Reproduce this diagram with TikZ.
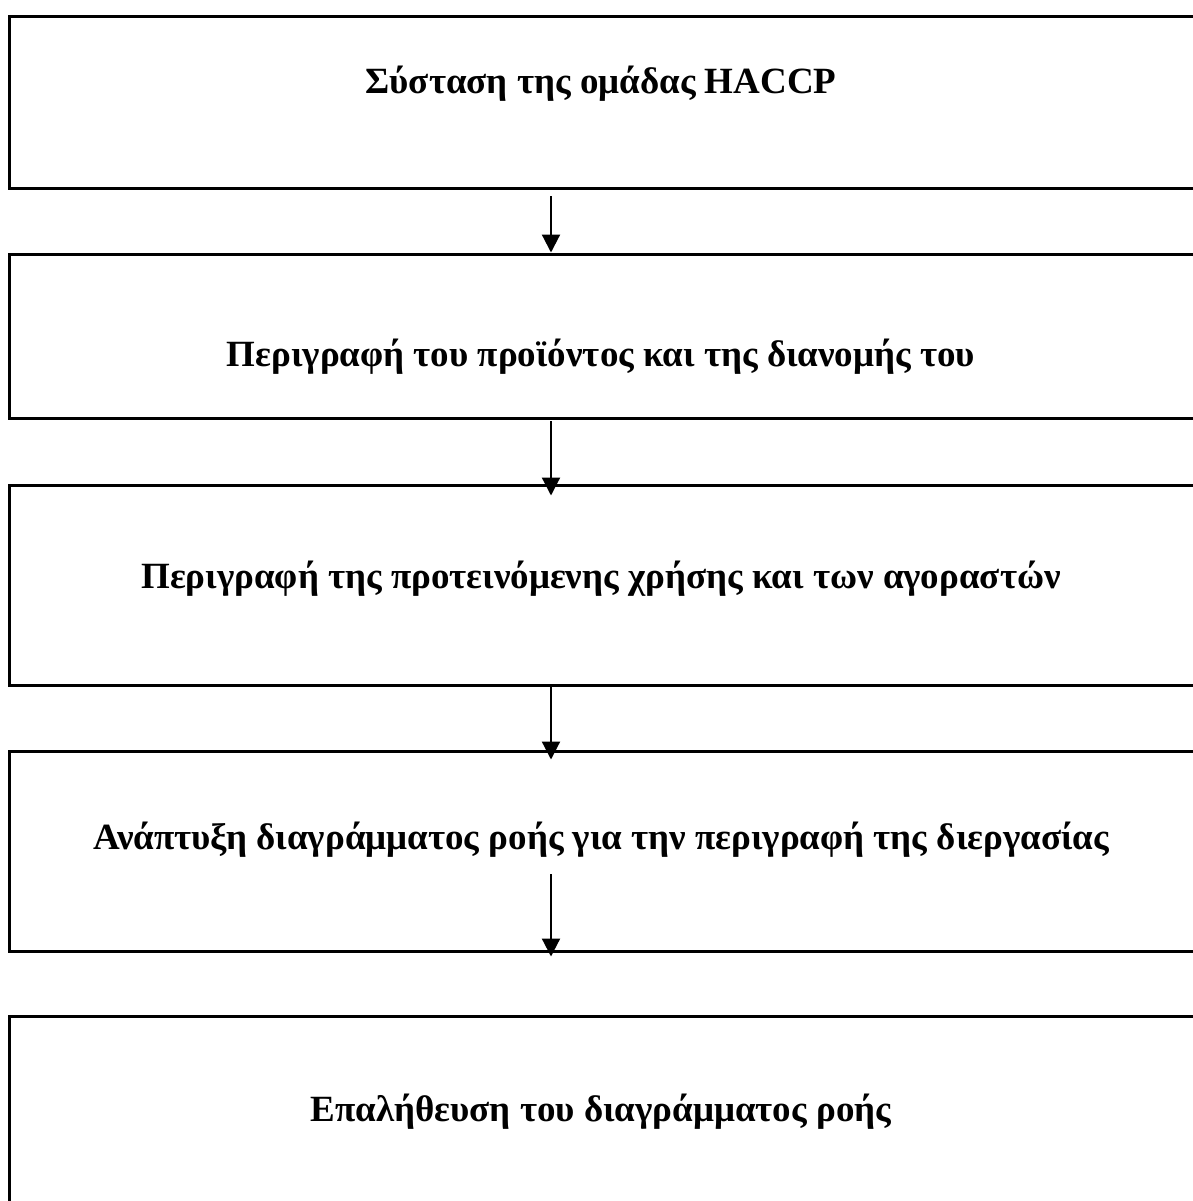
\documentclass[tikz,border=0pt]{standalone}
\usepackage{fontspec}
\setmainfont{Liberation Serif}
\usetikzlibrary{arrows.meta}
\begin{document}
\begin{tikzpicture}[x=0.5pt, y=-0.5pt,
    stagebox/.style={draw, line width=1.5pt, inner sep=0pt, minimum width=592.25pt},
    stagetext/.style={anchor=base, inner sep=0pt, font=\fontsize{18.5}{22}\selectfont\bfseries},
    flow/.style={line width=1.1pt, -{Triangle[length=9pt, width=9pt]}}]
            % Page
            \useasboundingbox (0, 0) rectangle (1193, 1201);
            %Centre of the boxes
            \def\X{601.75};
            \def\T{601};
            % Boxes
            \node[stagebox, minimum height=86pt] (B1) at (\X, 102) {};
            \node[stagebox, minimum height=82pt] (B2) at (\X, 336) {};
            \node[stagebox, minimum height=100pt] (B3) at (\X, 585) {};
            \node[stagebox, minimum height=100pt] (B4) at (\X, 851) {};
            \node[stagebox, minimum height=112pt] (B5) at (\X, 1128) {};
            % Texts
            \node[stagetext] (T1) at (\T, 93) {Σύσταση της ομάδας HACCP};
            \node[stagetext] (T2) at (\T, 366) {Περιγραφή του προϊόντος και της διανομής του};
            \node[stagetext] (T3) at (\T, 588) {Περιγραφή της προτεινόμενης χρήσης και των αγοραστών};
            \node[stagetext] (T4) at (\T, 849) {Ανάπτυξη διαγράμματος ροής για την περιγραφή της διεργασίας};
            \node[stagetext] (T5) at (\T, 1121) {Επαλήθευση του διαγράμματος ροής};

            % Arrows
            \path (551, 196) coordinate (A1);
            \path (551, 421) coordinate (A2);
            \path (551, 684) coordinate (A3);
            \path (551, 874) coordinate (A4);
            \draw[flow] (A1) -- (A1 |- B2.north);
            \draw[flow] (A2) -- ([yshift=-6pt]A2 |- B3.north);
            \draw[flow] (A3) -- ([yshift=-5pt]A3 |- B4.north);
            \draw[flow] (A4) -- ([yshift=-2pt]A4 |- B4.south);
        \end{tikzpicture}
\end{document}
